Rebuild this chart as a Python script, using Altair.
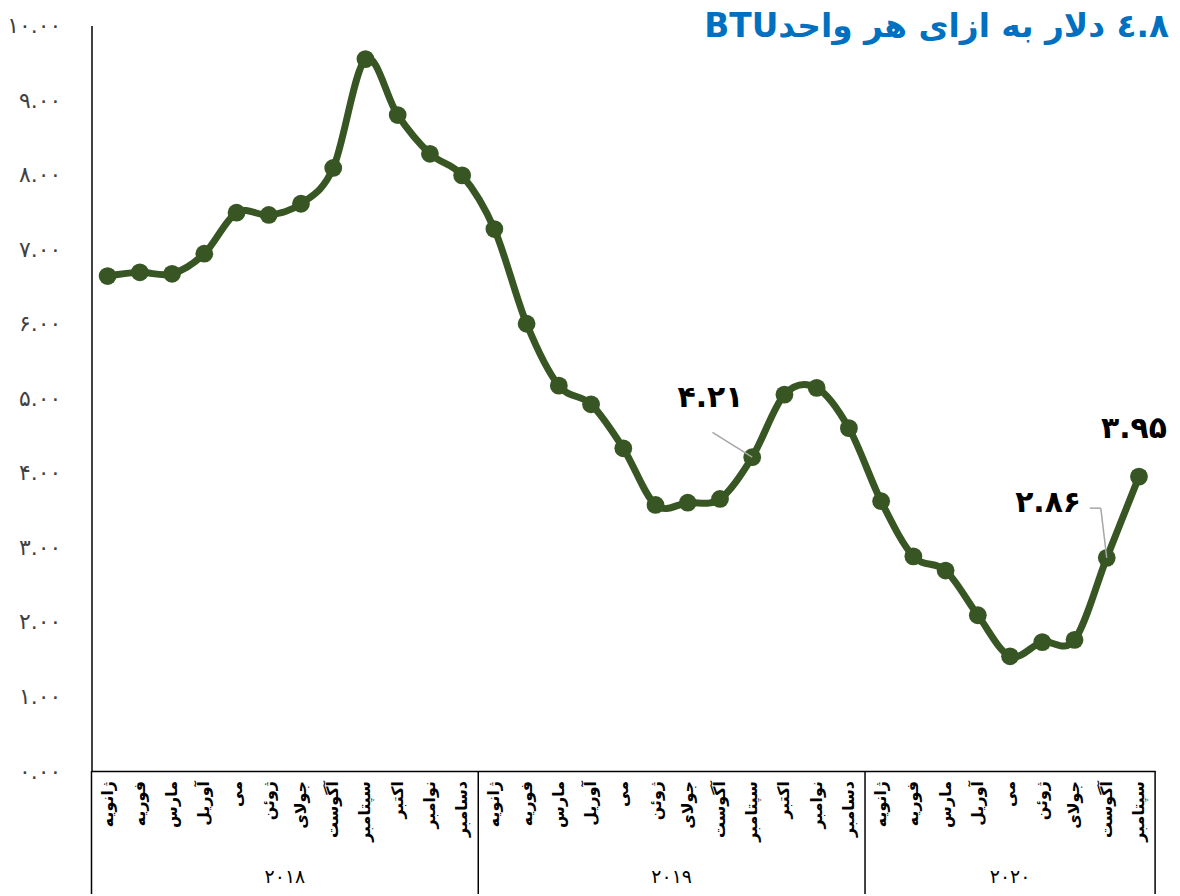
import json
import altair as alt
import pandas as pd

# ---- data ----
months = ["ژانویه", "فوریه", "مارس", "آوریل", "می", "ژوئن",
          "جولای", "آگوست", "سپتامبر", "اکتبر", "نوامبر", "دسامبر"]
years = ["۲۰۱۸", "۲۰۱۹", "۲۰۲۰"]
values_2018 = [6.64, 6.69, 6.67, 6.94, 7.49, 7.46, 7.61, 8.09, 9.55, 8.80, 8.28, 7.99]
values_2019 = [7.27, 6.00, 5.17, 4.92, 4.33, 3.57, 3.60, 3.65, 4.21, 5.05, 5.14, 4.60]
values_2020 = [3.62, 2.88, 2.69, 2.09, 1.54, 1.73, 1.76, 2.86, 3.95]
y_tick_labels = ["۰.۰۰", "۱.۰۰", "۲.۰۰", "۳.۰۰", "۴.۰۰", "۵.۰۰",
                 "۶.۰۰", "۷.۰۰", "۸.۰۰", "۹.۰۰", "۱۰.۰۰"]
annot_idx = [20, 31, 32]
annot_text = ["۴.۲۱", "۲.۸۶", "۳.۹۵"]
title_text = "BTU" + "٤.٨ دلار به ازای هر واحد"

series = values_2018 + values_2019 + values_2020
month_labels = (months * 3)[:len(series)]
df = pd.DataFrame({"idx": list(range(len(series))), "value": series,
                   "month": month_labels})
sep_df = pd.DataFrame({"idx": [-0.5, 11.5, 23.5, 32.5]})
year_df = pd.DataFrame({"idx": [5.5, 17.5, 28.0], "label": years})
ann_df = pd.DataFrame({"idx": annot_idx,
                       "value": [series[i] for i in annot_idx],
                       "label": annot_text})

GREEN = "#375623"
FONT = "DejaVu Sans"

xscale = alt.Scale(domain=[-0.5, 32.5], nice=False, zero=False)
yscale = alt.Scale(domain=[0, 10], nice=False, zero=True)

x_axis = alt.Axis(
    values=list(range(len(series))), labels=False,
    ticks=False, grid=False, domainColor="black", domainWidth=1.5, title=None,
)
y_axis = alt.Axis(
    values=list(range(11)),
    labelExpr=f"{json.dumps(y_tick_labels, ensure_ascii=False)}[datum.value]",
    labelPadding=31, labelFontSize=22, labelColor="#404040", labelFont=FONT,
    labelOverlap=False, labelBound=False, labelFlush=False,
    ticks=False, grid=False, domainColor="black", domainWidth=1.5, title=None,
)

base = alt.Chart(df)
line = base.mark_line(interpolate="cardinal", strokeWidth=7, color=GREEN).encode(
    x=alt.X("idx:Q", scale=xscale, axis=x_axis),
    y=alt.Y("value:Q", scale=yscale, axis=y_axis),
)
points = base.mark_circle(size=320, opacity=1, color=GREEN).encode(
    x=alt.X("idx:Q", scale=xscale),
    y=alt.Y("value:Q", scale=yscale),
)
month_text = base.mark_text(
    angle=270, align="right", baseline="middle", fontSize=16,
    fontWeight="bold", font=FONT, color="black",
).encode(x=alt.X("idx:Q", scale=xscale), y=alt.value(760), text="month:N")

seps = alt.Chart(sep_df).mark_rule(color="black", strokeWidth=1.5).encode(
    x=alt.X("idx:Q", scale=xscale),
    y=alt.value(750), y2=alt.value(900),
)
year_labels = alt.Chart(year_df).mark_text(
    fontSize=19, font=FONT, color="black", baseline="middle"
).encode(
    x=alt.X("idx:Q", scale=xscale), y=alt.value(857), text="label:N"
)

def ann_layer(i, dx, dy):
    return alt.Chart(ann_df.iloc[[i]]).mark_text(
        fontSize=30, fontWeight="bold", font=FONT, color="black",
        baseline="middle", align="center", dx=dx, dy=dy,
    ).encode(
        x=alt.X("idx:Q", scale=xscale), y=alt.Y("value:Q", scale=yscale),
        text="label:N",
    )

def leader(i, xo, yo, x2o, y2o):
    return alt.Chart(ann_df.iloc[[i]]).mark_rule(
        color="#A6A6A6", strokeWidth=1.5,
        xOffset=xo, yOffset=yo, x2Offset=x2o, y2Offset=y2o,
    ).encode(
        x=alt.X("idx:Q", scale=xscale), y=alt.Y("value:Q", scale=yscale),
        x2="idx:Q", y2="value:Q",
    )

title = alt.Chart(pd.DataFrame({"t": [title_text]})).mark_text(
    align="right", baseline="alphabetic", fontSize=33, fontWeight="bold",
    font=FONT, color="#0070C0",
).encode(x=alt.value(1084), y=alt.value(12), text="t:N")

chart = alt.layer(
    seps, line, points, month_text,
    leader(0, 0, 0, -40, -25),
    leader(1, 0, 0, -6, -50),
    leader(1, -6, -50, -17, -50),
    ann_layer(0, -42, -60), ann_layer(1, -59, -55), ann_layer(2, -5, -48),
    year_labels, title,
).properties(
    width=1070, height=750,
    autosize=alt.AutoSizeParams(type="none"),
    padding={"left": 84, "top": 15, "right": 17, "bottom": 121},
    background="white",
).configure_view(stroke=None)

chart.save("out.html", embed_options={"renderer": "svg", "actions": False})
